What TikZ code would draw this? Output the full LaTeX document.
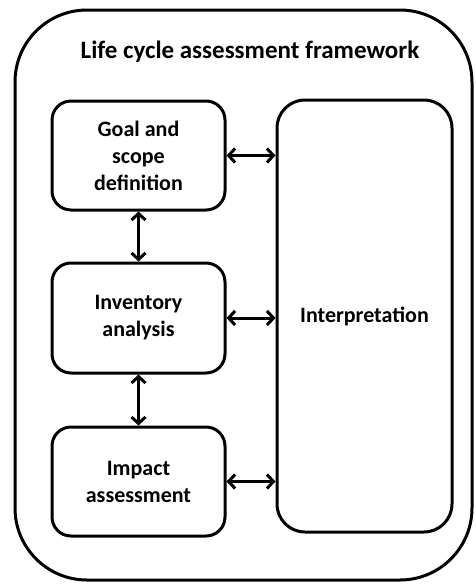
\documentclass[tikz,border=0pt]{standalone}
\usepackage{fontspec}
\setmainfont{Carlito}
\usetikzlibrary{arrows.meta}
\begin{document}
\begin{tikzpicture}[x=1pt,y=-1pt,
  box/.style={draw, line width=3pt, rounded corners=19pt, align=center, inner sep=0pt,
    font=\bfseries\fontsize{22}{27}\selectfont},
  conn/.style={line width=3pt, {Straight Barb[length=6.5pt,width=14pt,line width=3pt]}-{Straight Barb[length=6.5pt,width=14pt,line width=3pt]}}]
\useasboundingbox (0,0) rectangle (476,587);
\node[draw, line width=3pt, rounded corners=72pt, minimum width=457pt, minimum height=570pt, inner sep=0pt] (frame) at (243.5,295) {};
\node[font=\bfseries\fontsize{25}{30}\selectfont] (title) at (250,52) {Life cycle assessment framework};
\node[box, minimum width=173pt, minimum height=109pt] (goal) at (138.5,155.5) {Goal and\\scope\\definition};
\node[box, minimum width=173pt, minimum height=110pt] (inv) at (138.5,318) {Inventory\\analysis};
\node[box, minimum width=173pt, minimum height=109pt] (imp) at (138.5,481.5) {Impact\\assessment};
\node[box, rounded corners=28pt, minimum width=175pt, minimum height=432pt] (interp) at (364.5,316) {Interpretation};
\draw[conn] (goal.south) -- (inv.north);
\draw[conn] (inv.south) -- (imp.north);
\draw[conn] (goal.east) -- (interp.west |- goal.east);
\draw[conn] (inv.east) -- (interp.west |- inv.east);
\draw[conn] (imp.east) -- (interp.west |- imp.east);
\end{tikzpicture}
\end{document}
